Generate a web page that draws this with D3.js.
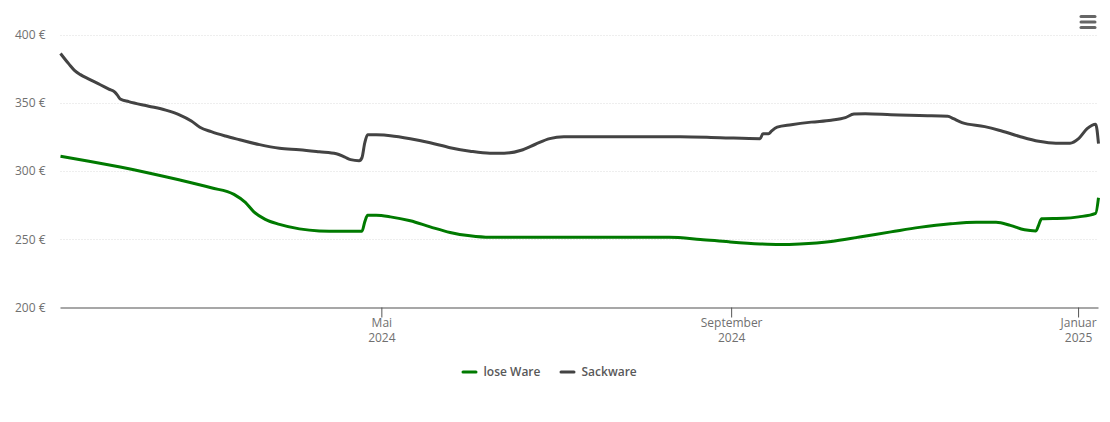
<!DOCTYPE html>
<html>
<head>
<meta charset="utf-8">
<script src="https://cdnjs.cloudflare.com/ajax/libs/d3/7.8.5/d3.min.js"></script>
<style>
  html, body { margin: 0; padding: 0; background: #fff; }
  text { font-family: "Open Sans", sans-serif; }
</style>
</head>
<body>
<div id="viz"></div>
<script>
const yTicks = [200, 250, 300, 350, 400];
const xTicks = [["2024-05-01", "Mai", "2024"], ["2024-09-01", "September", "2024"], ["2025-01-01", "Januar", "2025"]];
const seriesNames = ["lose Ware", "Sackware"];

const loseWare = [
  ["2024-01-09", 310.8], ["2024-01-19", 307.2], ["2024-01-30", 302.9], ["2024-02-09", 298.6],
  ["2024-02-20", 293.4], ["2024-03-02", 287.7], ["2024-03-10", 282.9], ["2024-03-14", 277.0],
  ["2024-03-17", 270.1], ["2024-03-21", 264.6], ["2024-03-26", 260.9], ["2024-04-02", 257.6],
  ["2024-04-09", 256.1], ["2024-04-16", 255.8], ["2024-04-24", 255.8], ["2024-04-25", 262.8],
  ["2024-04-26", 267.5], ["2024-04-29", 267.5], ["2024-05-04", 266.4], ["2024-05-11", 263.5],
  ["2024-05-18", 259.1], ["2024-05-25", 255.0], ["2024-06-01", 252.5], ["2024-06-08", 251.4],
  ["2024-07-01", 251.4], ["2024-08-10", 251.4], ["2024-08-21", 249.9], ["2024-08-31", 248.1],
  ["2024-09-11", 246.6], ["2024-09-18", 246.2], ["2024-09-25", 246.6], ["2024-10-06", 248.4],
  ["2024-10-16", 251.7], ["2024-10-27", 255.4], ["2024-11-06", 258.7], ["2024-11-17", 261.3],
  ["2024-11-26", 262.4], ["2024-12-03", 262.4], ["2024-12-08", 260.2], ["2024-12-13", 256.9],
  ["2024-12-17", 256.1], ["2024-12-18", 260.6], ["2024-12-19", 265.0], ["2024-12-27", 265.3],
  ["2025-01-01", 266.4], ["2025-01-07", 269.0], ["2025-01-08", 280.4]
];

const sackWare = [
  ["2024-01-09", 386.1], ["2024-01-12", 378.3], ["2024-01-14", 373.6], ["2024-01-16", 370.6],
  ["2024-01-19", 367.3], ["2024-01-23", 363.2], ["2024-01-26", 360.0], ["2024-01-28", 357.9],
  ["2024-01-29", 355.6], ["2024-01-30", 352.8], ["2024-02-02", 350.8], ["2024-02-09", 347.5],
  ["2024-02-15", 344.6], ["2024-02-20", 341.0], ["2024-02-24", 336.7], ["2024-02-27", 332.1],
  ["2024-03-02", 328.8], ["2024-03-07", 325.6], ["2024-03-12", 322.9], ["2024-03-19", 319.3],
  ["2024-03-26", 316.7], ["2024-04-02", 315.6], ["2024-04-09", 314.1], ["2024-04-15", 312.7],
  ["2024-04-18", 310.1], ["2024-04-20", 308.3], ["2024-04-23", 307.5], ["2024-04-24", 309.7],
  ["2024-04-25", 320.7], ["2024-04-26", 326.6], ["2024-04-29", 326.5], ["2024-05-04", 325.9],
  ["2024-05-11", 323.7], ["2024-05-18", 320.7], ["2024-05-25", 317.1], ["2024-06-01", 314.5],
  ["2024-06-08", 313.0], ["2024-06-13", 313.0], ["2024-06-19", 315.2], ["2024-06-24", 319.6],
  ["2024-06-29", 323.7], ["2024-07-04", 325.1], ["2024-07-17", 325.1], ["2024-08-14", 325.1],
  ["2024-08-28", 324.4], ["2024-09-11", 323.7], ["2024-09-12", 327.3], ["2024-09-14", 327.3],
  ["2024-09-15", 329.2], ["2024-09-17", 332.1], ["2024-09-22", 333.9], ["2024-09-29", 335.8],
  ["2024-10-06", 337.2], ["2024-10-11", 339.1], ["2024-10-14", 341.7], ["2024-10-18", 342.0],
  ["2024-10-27", 341.3], ["2024-11-06", 340.6], ["2024-11-16", 340.2], ["2024-11-18", 338.3],
  ["2024-11-21", 335.4], ["2024-11-29", 332.5], ["2024-12-04", 329.9], ["2024-12-11", 325.5],
  ["2024-12-18", 321.8], ["2024-12-24", 320.4], ["2024-12-29", 320.4], ["2025-01-01", 323.7],
  ["2025-01-04", 331.0], ["2025-01-07", 334.3], ["2025-01-08", 320.0]
];

const colors = ["#007a00", "#434343"];

const width = 1110, height = 422;
const parseDate = d3.utcParse("%Y-%m-%d");

const svg = d3.select("#viz").append("svg")
  .attr("width", width)
  .attr("height", height)
  .style("display", "block");

const x = d3.scaleUtc()
  .domain([parseDate("2024-01-09"), parseDate("2025-01-08")])
  .range([60.5, 1098.5]);

const y = d3.scaleLinear()
  .domain([200, 400])
  .range([307.5, 34.5]);

// y axis: only labels + dotted grid lines
const yAxis = svg.append("g")
  .attr("transform", "translate(59.5,0)")
  .call(d3.axisLeft(y).tickValues(yTicks).tickSize(0).tickPadding(14).tickFormat(d => d + " €"));
yAxis.select(".domain").remove();
yAxis.selectAll("text").attr("font-family", "Open Sans").attr("font-size", 12).attr("fill", "#707070");

svg.append("g").selectAll("line")
  .data(yTicks.filter(d => d > 200))
  .join("line")
  .attr("x1", 60.5)
  .attr("x2", 1098.5)
  .attr("y1", d => Math.round(y(d)) + 0.5)
  .attr("y2", d => Math.round(y(d)) + 0.5)
  .attr("stroke", "#dcdcdc")
  .attr("stroke-dasharray", "1,2");

// x axis with two line labels
const xAxis = svg.append("g")
  .attr("transform", "translate(-0.5,307.5)")
  .call(d3.axisBottom(x).tickValues(xTicks.map(d => parseDate(d[0]))).tickSize(10).tickSizeOuter(0).tickFormat(""));
xAxis.select(".domain").attr("stroke", "#8a8a8a").attr("stroke-width", 1.5);
xAxis.selectAll(".tick line").attr("stroke", "#555");
xAxis.selectAll(".tick text").remove();

const xLabels = svg.append("g").selectAll("text")
  .data(xTicks)
  .join("text")
  .attr("text-anchor", "middle")
  .attr("font-size", 12)
  .attr("fill", "#707070")
  .attr("transform", d => `translate(${x(parseDate(d[0]))},327)`);
xLabels.append("tspan").attr("x", 0).attr("y", 0).text(d => d[1]);
xLabels.append("tspan").attr("x", 0).attr("y", 15).text(d => d[2]);

const line = d3.line()
  .x(d => x(parseDate(d[0])))
  .y(d => y(d[1]))
  .curve(d3.curveMonotoneX);

svg.append("g").selectAll("path")
  .data([loseWare, sackWare])
  .join("path")
  .attr("d", line)
  .attr("fill", "none")
  .attr("stroke", (d, i) => colors[i])
  .attr("stroke-width", 3)
  .attr("stroke-linejoin", "round");

// legend
const legendX = [463, 561];
const legend = svg.append("g").selectAll("g")
  .data(seriesNames)
  .join("g")
  .attr("transform", (d, i) => `translate(${legendX[i]},372)`);
legend.append("line")
  .attr("x2", 13)
  .attr("stroke", (d, i) => colors[i])
  .attr("stroke-width", 3)
  .attr("stroke-linecap", "round");
legend.append("text")
  .attr("x", 20.5)
  .attr("y", 4)
  .attr("font-size", 12)
  .attr("font-weight", 600)
  .attr("fill", "#595959")
  .text(d => d);

// menu button
svg.append("g").selectAll("line")
  .data([16.5, 22, 27.5])
  .join("line")
  .attr("x1", 1081)
  .attr("x2", 1095)
  .attr("y1", d => d)
  .attr("y2", d => d)
  .attr("stroke", "#666")
  .attr("stroke-width", 3)
  .attr("stroke-linecap", "round");
</script>
</body>
</html>
